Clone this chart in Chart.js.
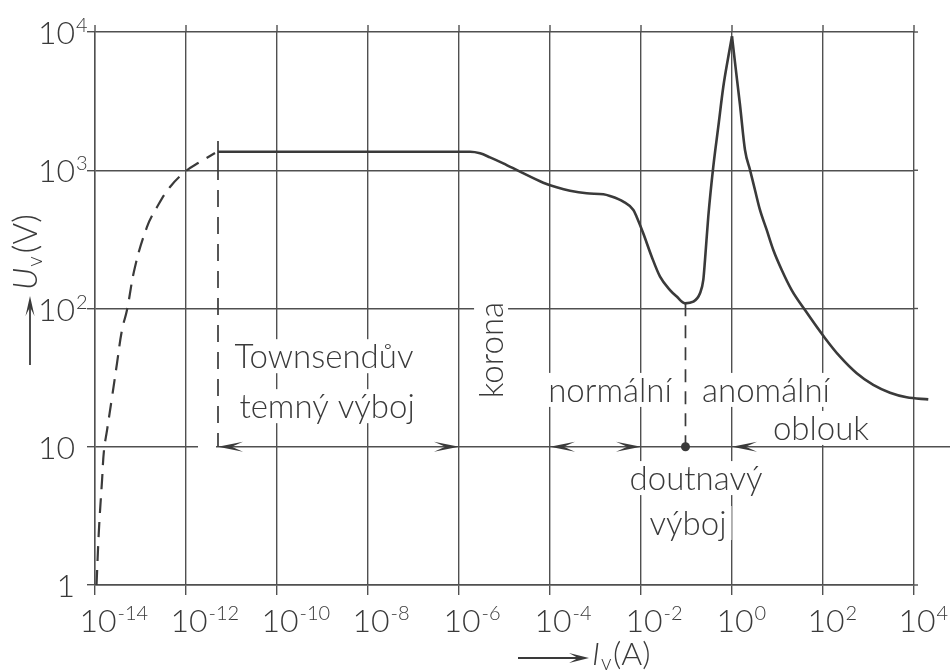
<!DOCTYPE html>
<html>
<head>
<meta charset="utf-8">
<script src="https://cdn.jsdelivr.net/npm/chart.js@4.4.1/dist/chart.umd.min.js"></script>
<style>
  html,body{margin:0;padding:0;background:#fff;}
  #wrap{width:950px;height:670px;position:relative;}
</style>
</head>
<body>
<div id="wrap"><canvas id="vaChart"></canvas></div>
<script>
// decade ticks
const xTicks=[1e-14,1e-12,1e-10,1e-8,1e-6,1e-4,1e-2,1,1e2,1e4];
const yTicks=[1,10,100,1000,10000];

// Townsend dark discharge, rising part (dashed)
const darkI=[1.08e-14,1.22e-14,1.43e-14,1.58e-14,1.84e-14,2.37e-14,3.05e-14,3.92e-14,5.05e-14,7.57e-14,1.39e-13,2.31e-13,4.45e-13,1e-12,2.03e-12,4.34e-12];
const darkU=[1,2.5,5.75,9.5,13.2,22.9,40.3,70,97.5,200,389,542,757,988,1148,1333];

// plateau, corona, glow discharge up to the peak
const glowI=[5.05e-12,8.2e-7,1.75e-6,2.9e-6,4.8e-6,9.4e-6,2.19e-5,7.1e-5,1.4e-4,2.75e-4,6.4e-4,1.49e-3,2.08e-3,4.08e-3,6.8e-3,8.0e-3,1.12e-2,1.72e-2,2.62e-2,4.34e-2,6.1e-2,9.3e-2,0.141,0.198,0.234,0.255,0.301,0.388,0.5,0.644,0.83,1];
const glowU=[1360,1360,1360,1326,1240,1122,977,813,753,711,681,670,651,593,516,461,350,237,170,136,122,109,112,129,161,224,461,1062,2065,4020,6630,9300];

// arc
const arcI=[1,1.16,1.5,1.93,2.49,3.2,4.12,5.79,8.09,12.4,20.5,40.2,111,237,551,1270,2970,6900,20600];
const arcU=[9300,6070,2965,1401,1004,720,516,370,265,190,136,97.5,61,44.8,34,28,24.6,22.8,22];

// region boundaries
const darkEdgeI=5.05e-12, glowMinI=0.095, dimU=10;

const INK='#3a3a3a', GRID='#505050';
const FONT='Lato, "Liberation Sans", sans-serif';

const notes=[
  {text:'Townsendův', x:1.08e-9, y:37},
  {text:'temný výboj', x:1.26e-9, y:16.1},
  {text:'korona', x:9.3e-6, y:50, rotate:true},
  {text:'normální', x:2.08e-3, y:21.1},
  {text:'anomální', x:5.58, y:21.1},
  {text:'oblouk', x:90.4, y:11.2},
  {text:'doutnavý', x:0.162, y:4.86},
  {text:'výboj', x:0.108, y:2.3}
];
// arrow tips on the U = 10 V dimension line (dir -1 = points left)
const arrows=[
  {x:darkEdgeI, dir:-1},{x:1e-6, dir:1},
  {x:1e-4, dir:-1},{x:1e-2, dir:1},
  {x:1, dir:-1}
];

const pts=(xs,ys)=>xs.map((x,i)=>({x:x,y:ys[i]}));

function head(ctx,x,y,dir,len,half){
  ctx.beginPath();
  ctx.moveTo(x,y);
  ctx.lineTo(x-dir*len,y-half);
  ctx.lineTo(x-dir*len*0.55,y);
  ctx.lineTo(x-dir*len,y+half);
  ctx.closePath();
  ctx.fill();
}
function upHead(ctx,x,y,len,half){
  ctx.beginPath();
  ctx.moveTo(x,y);
  ctx.lineTo(x-half,y+len);
  ctx.lineTo(x,y+len*0.55);
  ctx.lineTo(x+half,y+len);
  ctx.closePath();
  ctx.fill();
}

const decor={
  id:'decor',
  beforeDatasetsDraw(chart){
    const {ctx,chartArea:a}=chart, sx=chart.scales.x, sy=chart.scales.y;
    ctx.save();
    // grid overshoot like the hand drawing
    ctx.strokeStyle=GRID; ctx.lineWidth=1.4;
    sx.ticks.forEach(t=>{
      const x=sx.getPixelForValue(t.value);
      ctx.beginPath();ctx.moveTo(x,a.top-7);ctx.lineTo(x,a.top);ctx.stroke();
    });
    sy.ticks.forEach(t=>{
      const y=sy.getPixelForValue(t.value);
      ctx.beginPath();ctx.moveTo(a.right,y);ctx.lineTo(t.value===10?chart.width:a.right+4,y);ctx.stroke();
    });
    // small break in the 10 V line before the dimension arrow
    const ex=sx.getPixelForValue(darkEdgeI), ey=sy.getPixelForValue(dimU);
    ctx.fillStyle='#fff';
    ctx.fillRect(ex-20,ey-3,18,6);
    // region labels on white, breaking the grid
    ctx.font='300 33px '+FONT;
    ctx.textBaseline='alphabetic';
    ctx.textAlign='center';
    notes.forEach(n=>{
      const x=sx.getPixelForValue(n.x), y=sy.getPixelForValue(n.y);
      const w=ctx.measureText(n.text).width;
      ctx.save();
      ctx.translate(x,y);
      if(n.rotate) ctx.rotate(-Math.PI/2);
      ctx.fillStyle='#fff';
      ctx.fillRect(-w/2-5,-29,w+10,34);
      ctx.fillStyle=INK;
      ctx.fillText(n.text,0,0);
      ctx.restore();
    });
    ctx.restore();
  },
  afterDatasetsDraw(chart){
    const {ctx}=chart, sx=chart.scales.x, sy=chart.scales.y;
    const X=v=>sx.getPixelForValue(v), Y=v=>sy.getPixelForValue(v);
    ctx.save();
    ctx.strokeStyle=INK; ctx.fillStyle=INK; ctx.lineWidth=1.7;
    // start of the plateau
    ctx.beginPath();ctx.moveTo(X(darkEdgeI),Y(1630));ctx.lineTo(X(darkEdgeI),Y(1130));ctx.stroke();
    ctx.setLineDash([17,10]);
    ctx.beginPath();ctx.moveTo(X(darkEdgeI),Y(1130));ctx.lineTo(X(darkEdgeI),Y(dimU));ctx.stroke();
    ctx.setLineDash([13,9]);
    ctx.beginPath();ctx.moveTo(X(glowMinI),Y(109));ctx.lineTo(X(glowMinI),Y(dimU));ctx.stroke();
    ctx.setLineDash([]);
    arrows.forEach(a=>head(ctx,X(a.x),Y(dimU),a.dir,25,5));
    ctx.beginPath();ctx.arc(X(glowMinI),Y(dimU),4.5,0,Math.PI*2);ctx.fill();
    ctx.restore();
  },
  afterDraw(chart){
    const {ctx,chartArea:a}=chart, sx=chart.scales.x, sy=chart.scales.y;
    ctx.save();
    ctx.fillStyle=INK; ctx.strokeStyle=INK;
    ctx.textBaseline='alphabetic';
    // x tick labels 10^n
    sx.ticks.forEach(t=>{
      const x=sx.getPixelForValue(t.value)+3, y=a.bottom+47;
      const e=Math.round(Math.log10(t.value));
      ctx.font='300 32px '+FONT; ctx.textAlign='center';
      ctx.fillText('10',x,y);
      const w=ctx.measureText('10').width;
      ctx.font='300 20px '+FONT; ctx.textAlign='left';
      ctx.fillText(String(e),x+w/2+1,y-12);
    });
    // y tick labels
    sy.ticks.forEach(t=>{
      const y=sy.getPixelForValue(t.value)+12, xr=a.left-20;
      const e=Math.round(Math.log10(t.value));
      ctx.font='300 32px '+FONT; ctx.textAlign='right';
      ctx.fillText(e===0?'1':'10',xr,y);
      if(e>1){ctx.font='300 20px '+FONT;ctx.textAlign='left';ctx.fillText(String(e),xr+1,y-12);}
    });
    // y title U_v (V), rotated, with arrow
    ctx.save();
    ctx.translate(37,290); ctx.rotate(-Math.PI/2);
    ctx.textAlign='left';
    ctx.font='italic 300 33px '+FONT; ctx.fillText('U',0,0);
    let w=ctx.measureText('U').width+1;
    ctx.font='300 21px '+FONT; ctx.fillText('v',w,5);
    w+=ctx.measureText('v').width+3;
    ctx.font='300 33px '+FONT; ctx.fillText('(V)',w,0);
    ctx.restore();
    ctx.lineWidth=1.8;
    ctx.beginPath();ctx.moveTo(30,365);ctx.lineTo(30,305);ctx.stroke();
    upHead(ctx,30,296,20,4.5);
    // x title -> I_v (A)
    ctx.beginPath();ctx.moveTo(518,658);ctx.lineTo(580,658);ctx.stroke();
    head(ctx,589,658,1,20,5);
    ctx.textAlign='left';
    ctx.font='italic 300 32px '+FONT; ctx.fillText('I',592,665);
    ctx.font='300 21px '+FONT; ctx.fillText('v',601,670);
    ctx.font='300 32px '+FONT; ctx.fillText('(A)',613,665);
    ctx.restore();
  }
};

const line={borderColor:INK,borderWidth:2.6,pointRadius:0,fill:false};

new Chart(document.getElementById('vaChart'),{
  type:'line',
  data:{datasets:[
    {...line,label:'temný výboj',data:pts(darkI,darkU),borderDash:[15,9],borderWidth:2.2,tension:0.4},
    {...line,label:'doutnavý výboj',data:pts(glowI,glowU),cubicInterpolationMode:'monotone'},
    {...line,label:'oblouk',data:pts(arcI,arcU),cubicInterpolationMode:'monotone',clip:false}
  ]},
  options:{
    responsive:true,maintainAspectRatio:false,animation:false,
    layout:{padding:{top:32,right:36,left:0,bottom:0}},
    plugins:{legend:{display:false},tooltip:{enabled:false}},
    scales:{
      x:{type:'logarithmic',min:1e-14,max:1e4,
        afterBuildTicks:s=>{s.ticks=xTicks.map(v=>({value:v}));},
        afterFit:s=>{s.height=85;},
        ticks:{display:false},
        grid:{color:GRID,lineWidth:1.4,tickLength:10},
        border:{color:GRID,width:1.4}},
      y:{type:'logarithmic',min:1,max:1e4,
        afterBuildTicks:s=>{s.ticks=yTicks.map(v=>({value:v}));},
        afterFit:s=>{s.width=95;},
        ticks:{display:false},
        grid:{color:GRID,lineWidth:1.4,tickLength:8},
        border:{color:GRID,width:1.4}}
    }
  },
  plugins:[decor]
});
</script>
</body>
</html>
